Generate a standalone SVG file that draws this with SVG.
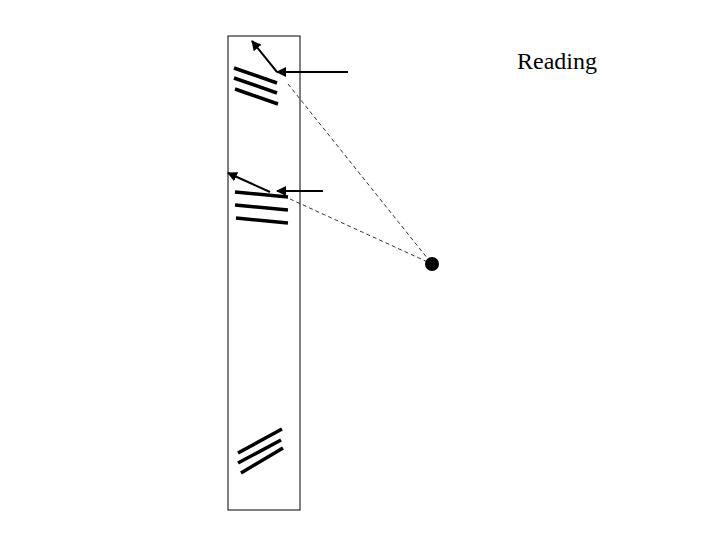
<svg xmlns="http://www.w3.org/2000/svg" width="720" height="540" viewBox="0 0 720 540">
<style>
.thick{stroke:#000;stroke-width:3.5;stroke-linecap:butt}
.arr{stroke:#000;stroke-width:2;fill:none}
.dash{stroke:#000;stroke-width:0.8;stroke-dasharray:4 3;fill:none}
.lbl{font-family:"Liberation Serif",serif;font-size:24px;fill:#000}
</style>
<defs>
<marker id="ah" viewBox="0 0 10 10" refX="9" refY="5" markerWidth="5" markerHeight="5" orient="auto" markerUnits="strokeWidth">
<path d="M0,0 L10,5 L0,10 z" fill="#000"/>
</marker>
</defs>
<rect width="720" height="540" fill="#fff"/>
<g id="column">
<rect x="228" y="36" width="72" height="474" fill="none" stroke="#000" stroke-width="1"/>
</g>
<g id="group-top">
<line class="thick" x1="234" y1="68" x2="277" y2="83"/>
<line class="thick" x1="234" y1="78" x2="277" y2="93"/>
<line class="thick" x1="235" y1="89" x2="278" y2="104"/>
</g>
<g id="group-middle">
<line class="thick" x1="235" y1="192" x2="288" y2="197"/>
<line class="thick" x1="235" y1="205" x2="288" y2="210"/>
<line class="thick" x1="236" y1="218" x2="288" y2="223"/>
</g>
<g id="group-bottom">
<line class="thick" x1="238" y1="453" x2="282" y2="429"/>
<line class="thick" x1="238" y1="463" x2="281" y2="440"/>
<line class="thick" x1="241" y1="473" x2="283" y2="448"/>
</g>
<g id="source">
<circle cx="432" cy="264" r="7" fill="#000"/>
</g>
<g id="label">
<text class="lbl" x="517" y="69">Reading</text>
</g>
<g id="connectors">
<line class="arr" x1="348" y1="72" x2="277" y2="72" marker-end="url(#ah)"/>
<line class="arr" x1="277" y1="72" x2="252" y2="41" marker-end="url(#ah)"/>
<line class="arr" x1="323" y1="191" x2="277" y2="191" marker-end="url(#ah)"/>
<line class="arr" x1="270" y1="192" x2="228" y2="173" marker-end="url(#ah)"/>
<line class="dash" x1="288" y1="84" x2="432" y2="264"/>
<line class="dash" x1="290" y1="199" x2="432" y2="264"/>
</g>
</svg>
